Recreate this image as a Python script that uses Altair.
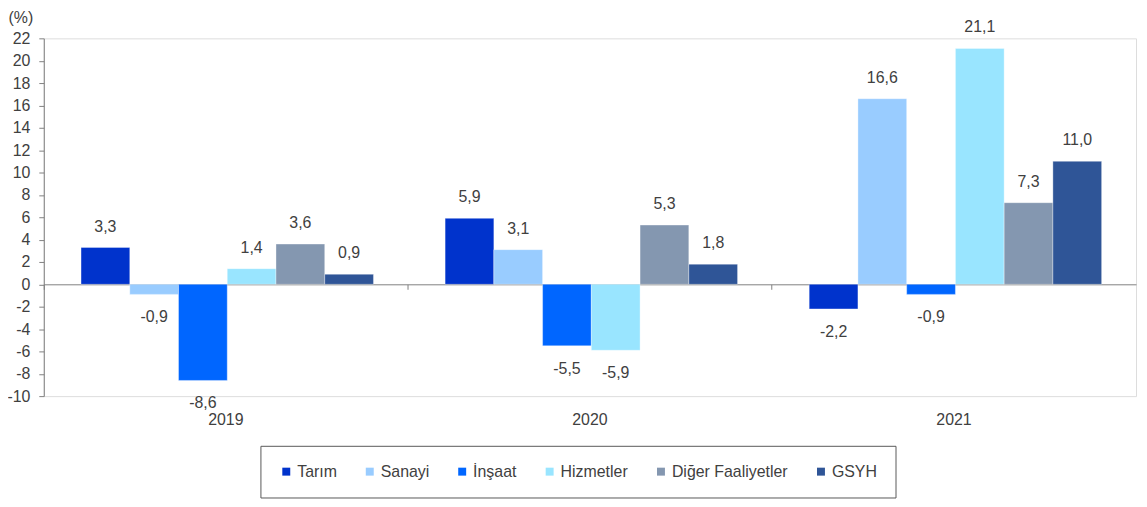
import altair as alt
import pandas as pd

years = ["2019", "2020", "2021"]
series = ["Tarım", "Sanayi", "İnşaat", "Hizmetler", "Diğer Faaliyetler", "GSYH"]
colors = ["#0033CC", "#99CCFF", "#0066FF", "#99E5FF", "#8497B0", "#2F5597"]

tarim = [3.3, 5.9, -2.2]
sanayi = [-0.9, 3.1, 16.6]
insaat = [-8.6, -5.5, -0.9]
hizmetler = [1.4, -5.9, 21.1]
diger = [3.6, 5.3, 7.3]
gsyh = [0.9, 1.8, 11.0]

y_ticks = list(range(-10, 23, 2))

values = [tarim, sanayi, insaat, hizmetler, diger, gsyh]
rows = []
for s, vals in zip(series, values):
    for yr, v in zip(years, vals):
        rows.append({"year": yr, "series": s, "value": v})
df = pd.DataFrame(rows)

FONT = "Liberation Sans"
TXT = "#404040"
AX = "#808080"
FS = 16

x_enc = alt.X(
    "year:N",
    sort=years,
    scale=alt.Scale(paddingInner=0, paddingOuter=0),
    axis=alt.Axis(
        title=None,
        orient="bottom",
        offset=-112.5,
        domain=True,
        domainColor=AX,
        ticks=True,
        tickColor=AX,
        tickSize=5,
        bandPosition=0,
        labelPadding=123,
        labelFontSize=FS,
        labelColor=TXT,
        labelFont=FONT,
        labelAngle=0,
        grid=False,
    ),
)
xoff_enc = alt.XOffset(
    "series:N",
    sort=series,
    scale=alt.Scale(paddingInner=0, paddingOuter=0.735, align=0.52),
)
y_enc = alt.Y(
    "value:Q",
    scale=alt.Scale(domain=[-10, 22], nice=False, zero=False),
    axis=alt.Axis(
        title="(%)",
        titleAngle=0,
        titleX=-36,
        titleY=-21,
        titleAlign="left",
        titleBaseline="middle",
        titleFontSize=FS,
        titleFontWeight="normal",
        titleColor=TXT,
        titleFont=FONT,
        values=y_ticks,
        labelExpr="toString(datum.value)",
        labelOverlap=False,
        labelFontSize=FS,
        labelColor=TXT,
        labelFont=FONT,
        labelPadding=9,
        tickSize=5,
        tickColor=AX,
        domainColor=AX,
        grid=False,
    ),
)

color_enc = alt.Color(
    "series:N",
    sort=series,
    scale=alt.Scale(domain=series, range=colors),
    legend=alt.Legend(
        title=None,
        orient="none",
        direction="horizontal",
        legendX=218,
        legendY=410,
        symbolType="square",
        symbolSize=64,
        symbolStrokeWidth=0,
        labelFontSize=FS,
        labelFont=FONT,
        labelColor=TXT,
        labelOffset=3,
        columnPadding=25,
        padding=18,
        strokeColor="#595959",
        fillColor="white",
    ),
)

base = alt.Chart(df)

bars = base.mark_bar(stroke="white", strokeOpacity=0.35, strokeWidth=1).encode(
    x=x_enc, xOffset=xoff_enc, y=y_enc, color=color_enc
)

lab = base.transform_calculate(
    label="replace(replace(format(datum.value, '.1f'), '.', ','), '\u2212', '-')"
)

pos_text = lab.transform_filter("datum.value >= 0").mark_text(
    dy=-21, fontSize=FS, font=FONT, color=TXT, baseline="middle"
).encode(x=x_enc, xOffset=xoff_enc, y=y_enc, text="label:N")

neg_text = lab.transform_filter("datum.value < 0").mark_text(
    dy=23, fontSize=FS, font=FONT, color=TXT, baseline="middle"
).encode(x=x_enc, xOffset=xoff_enc, y=y_enc, text="label:N")

chart = (
    alt.layer(bars, pos_text, neg_text)
    .properties(
        width=1099,
        height=360,
        autosize=alt.AutoSizeParams(type="none"),
        padding={"left": 36, "top": 29, "right": 3, "bottom": 103},
    )
    .configure_view(stroke=None)
    .configure(font=FONT)
)

chart.save("out.html", embed_options={"renderer": "svg", "actions": False})
